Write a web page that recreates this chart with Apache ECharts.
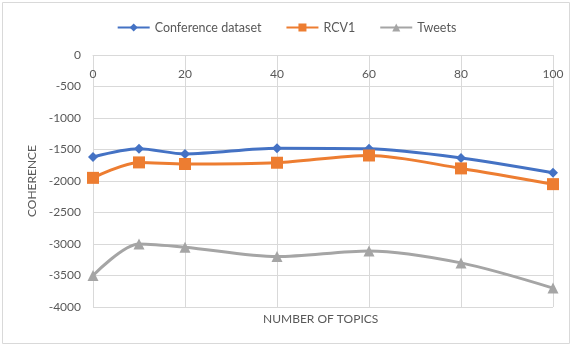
<!DOCTYPE html>
<html>
<head>
<meta charset="utf-8">
<script src="https://cdn.jsdelivr.net/npm/echarts@6/dist/echarts.min.js"></script>
<style>
  html, body { margin: 0; padding: 0; background: #fff; }
  #main { width: 573px; height: 349px; }
</style>
</head>
<body>
<div id="main"></div>
<script>
// number of topics on the x axis
var topics = [0, 10, 20, 40, 60, 80, 100];
var conference = [-1620, -1490, -1570, -1480, -1490, -1635, -1870];
var rcv1 = [-1950, -1705, -1730, -1710, -1595, -1800, -2050];
var tweets = [-3500, -3000, -3050, -3200, -3110, -3300, -3700];
var xTicks = [0, 20, 40, 60, 80, 100];
var yTicks = [0, -500, -1000, -1500, -2000, -2500, -3000, -3500, -4000];

var myChart = echarts.init(document.getElementById('main'));
var font = 'Lato, "Open Sans", sans-serif';

function pairs(vals) {
    return topics.map(function (t, i) { return [t, vals[i]]; });
}

var option = {
    animation: false,
    textStyle: { fontFamily: font },
    color: ['#4472C4', '#ED7D31', '#A5A5A5'],
    legend: {
        top: 16,
        left: 'center',
        itemWidth: 32,
        itemHeight: 10,
        itemGap: 24,
        textStyle: { color: '#595959', fontSize: 12.5, fontFamily: font },
        data: ['Conference dataset', 'RCV1', 'Tweets']
    },
    grid: { left: 93, right: 20, top: 55, bottom: 42 },
    graphic: [
        {
            type: 'rect',
            shape: { x: 2.5, y: 2.5, width: 567, height: 341 },
            style: { fill: 'none', stroke: '#d9d9d9', lineWidth: 1 },
            silent: true
        },
        {
            type: 'text',
            left: 263,
            top: 313,
            style: { text: 'NUMBER OF TOPICS', fill: '#595959', font: '12px ' + font }
        }
    ],
    xAxis: {
        type: 'value',
        position: 'top',
        min: xTicks[0],
        max: xTicks[xTicks.length - 1],
        interval: 20,
        axisLine: { show: true, lineStyle: { color: '#d9d9d9' } },
        axisTick: { show: false },
        axisLabel: { inside: true, margin: 13, color: '#595959', fontSize: 12 },
        splitLine: { show: true, lineStyle: { color: '#d9d9d9' } }
    },
    yAxis: {
        type: 'value',
        min: yTicks[yTicks.length - 1],
        max: yTicks[0],
        interval: 500,
        name: 'COHERENCE',
        nameLocation: 'middle',
        nameGap: 52,
        nameTextStyle: { color: '#595959', fontSize: 12 },
        axisLine: { show: false },
        axisTick: { show: false },
        axisLabel: {
            margin: 12,
            color: '#595959',
            fontSize: 12,
            formatter: function (v) { return String(v); }
        },
        splitLine: { lineStyle: { color: '#d9d9d9' } }
    },
    series: [
        {
            name: 'Conference dataset',
            type: 'line',
            smooth: 0.3,
            data: pairs(conference),
            symbol: 'diamond',
            symbolSize: 10,
            lineStyle: { width: 3 }
        },
        {
            name: 'RCV1',
            type: 'line',
            smooth: 0.3,
            data: pairs(rcv1),
            symbol: 'rect',
            symbolSize: 12,
            lineStyle: { width: 3 }
        },
        {
            name: 'Tweets',
            type: 'line',
            smooth: 0.3,
            data: pairs(tweets),
            symbol: 'triangle',
            symbolSize: 11,
            lineStyle: { width: 3 }
        }
    ]
};

myChart.setOption(option);
</script>
</body>
</html>
